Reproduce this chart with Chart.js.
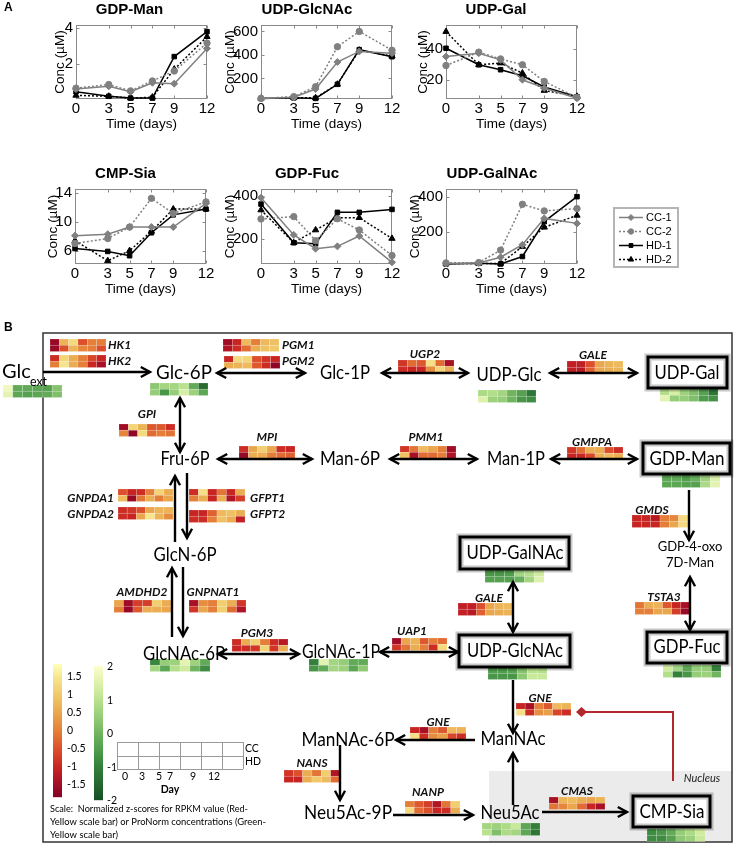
<!DOCTYPE html>
<html><head><meta charset="utf-8">
<script src="https://cdn.jsdelivr.net/npm/chart.js@4.4.0/dist/chart.umd.min.js"></script>
<style>
html,body{margin:0;padding:0;background:#fff;}
#wrap{position:relative;width:737px;height:845px;overflow:hidden;}
canvas{position:absolute;}
</style></head><body><div id="wrap">
<canvas id="bg" width="737" height="845" style="left:0;top:0;z-index:0"></canvas>
<canvas id="c1"></canvas><canvas id="c2"></canvas><canvas id="c3"></canvas>
<canvas id="c4"></canvas><canvas id="c5"></canvas><canvas id="c6"></canvas>
</div>
<script>
// ---------------- Panel A data ----------------
const days = [0, 3, 5, 7, 9, 12];
const seriesLabels = ['CC-1', 'CC-2', 'HD-1', 'HD-2'];

const gdpManCC1 = [0.6, 0.75, 0.45, 0.95, 0.9, 2.85];
const gdpManCC2 = [0.65, 0.85, 0.5, 1.05, 1.6, 3.15];
const gdpManHD1 = [0.45, 0.2, 0.1, 0.1, 2.4, 3.78];
const gdpManHD2 = [0.25, 0.2, 0.1, 0.15, 1.7, 3.5];
const gdpManTicks = [2, 4];

const udpGlcNAcCC1 = [30, 40, 110, 340, 430, 415];
const udpGlcNAcCC2 = [30, 45, 130, 470, 600, 440];
const udpGlcNAcHD1 = [30, 35, 30, 150, 445, 385];
const udpGlcNAcHD2 = [30, 35, 35, 150, 440, 390];
const udpGlcNAcTicks = [200, 400, 600];

const udpGalCC1 = [35, 37.2, 32.9, 20, 14.6, 8];
const udpGalCC2 = [29.2, 37.9, 33.5, 29.7, 18.9, 8.5];
const udpGalHD1 = [40.4, 29.7, 26.5, 22.6, 15.3, 9];
const udpGalHD2 = [51.2, 29.7, 30.8, 24.3, 13, 9.2];
const udpGalTicks = [20, 40];

const cmpSiaCC1 = [8.1, 8.3, 9.3, 9.3, 9.3, 12.6];
const cmpSiaCC2 = [7.0, 7.7, 9.3, 13.3, 11.2, 12.8];
const cmpSiaHD1 = [6.3, 5.9, 5.3, 8.5, 11.0, 11.8];
const cmpSiaHD2 = [7.4, 4.6, 6.0, 8.7, 11.8, 11.8];
const cmpSiaTicks = [6, 8, 10, 12, 14];

const gdpFucCC1 = [392, 217, 152, 163, 212, 88];
const gdpFucCC2 = [292, 303, 190, 293, 240, 120];
const gdpFucHD1 = [362, 180, 175, 323, 323, 337];
const gdpFucHD2 = [334, 180, 240, 298, 298, 200];
const gdpFucTicks = [200, 400];

const udpGalNAcCC1 = [25, 28, 60, 130, 278, 250];
const udpGalNAcCC2 = [28, 30, 100, 357, 320, 333];
const udpGalNAcHD1 = [22, 26, 22, 64, 260, 400];
const udpGalNAcHD2 = [25, 25, 25, 120, 228, 295];
const udpGalNAcTicks = [200, 400];

// ---------------- Panel B heatmap data (z-scores; row 0 = CC, row 1 = HD; columns = days) ----------------
const hmHK1 = [[-1.6, 0.7, 1.3, -0.5, 0.0, 0.0], [-1.6, -0.5, 0.7, 0.1, 0.0, -0.5]];
const hmHK2 = [[-0.9, 1.2, 0.6, 0.0, -0.6, -1.0], [0.0, 1.5, 0.6, 0.0, -1.0, -1.4]];
const hmPGM1 = [[-1.5, -1.0, 0.8, 0.0, 0.8, 0.9], [-1.3, -0.9, -0.2, 0.6, 0.9, 1.0]];
const hmPGM2 = [[-1.0, 1.3, 1.2, -0.5, -0.8, -1.0], [0.6, 0.7, 0.8, -0.4, -0.9, -1.7]];
const hmGPI = [[-1.5, 1.2, 0.7, -0.4, -0.4, -0.9], [0.1, -1.7, 1.3, -0.2, 0.0, -0.1]];
const hmMPI = [[-0.9, 0.5, 1.1, 0.5, -0.9, -1.0], [-1.6, 0.6, 0.6, 0.0, -0.2, -0.3]];
const hmGNPDA1 = [[-0.5, -1.0, -0.9, 0.0, 1.2, 0.6], [0.8, -1.6, -0.1, 0.6, 0.0, 0.5]];
const hmGNPDA2 = [[-0.9, -0.8, -0.5, 0.5, 0.7, 0.7], [-0.9, -1.0, 0.5, 1.5, 0.7, 0.2]];
const hmGFPT1 = [[-0.9, 1.4, -1.0, -0.1, -1.0, 0.6], [0.0, 0.6, -1.0, 0.6, -1.3, -0.7]];
const hmGFPT2 = [[-1.0, -1.0, -0.3, 0.8, 0.9, 0.6], [-0.9, -0.9, 0.0, 0.9, 0.6, -1.1]];
const hmUGP2 = [[-0.8, -0.2, -0.4, 1.4, -0.2, -1.4], [-0.9, -1.0, -1.0, 0.2, 1.2, 0.6]];
const hmGALE = [[-1.1, -1.1, -0.5, 0.5, 0.7, 0.8], [-1.1, -1.2, -0.3, 0.5, 0.6, 0.7]];
const hmPMM1 = [[-0.8, -0.1, 0.8, 0.5, 0.0, -1.5], [0.9, -1.4, -0.2, -0.2, 0.0, -1.3]];
const hmGMPPA = [[-0.8, -0.2, 0.6, 0.6, -0.5, -0.9], [-1.0, -1.0, -0.6, 0.6, 0.8, 0.6]];
const hmGMDS = [[-1.0, -1.0, -1.2, 0.0, 0.1, 1.3], [-1.0, -1.0, -1.0, 0.0, 0.5, 1.3]];
const hmTSTA3 = [[-0.1, 0.6, 0.7, -0.4, -1.0, -1.4], [0.0, 0.0, 0.5, 0.5, -0.7, -1.6]];
const hmUAP1 = [[-1.5, 0.5, 0.7, -0.4, 0.0, -0.2], [-0.8, -0.1, 0.6, 0.0, -0.9, 1.3]];
const hmPGM3 = [[-0.9, 0.6, 1.1, 0.0, -0.9, -1.2], [-1.0, -0.9, -0.8, 1.2, -0.8, 0.6]];
const hmAMDHD2 = [[0.5, -1.5, -0.7, -0.7, 1.1, 0.6], [0.0, -1.6, -0.4, 0.6, 0.6, 0.5]];
const hmGNPNAT1 = [[-1.4, 0.2, 0.0, 1.1, 0.6, -0.8], [-0.8, 0.5, 0.0, 1.1, -0.2, -1.3]];
const hmGNE = [[-1.0, -1.4, 0.0, -0.4, 0.8, 0.7], [1.4, -0.9, 0.2, 0.4, -0.6, -0.9]];
const hmNANS = [[-0.8, -0.5, 0.6, -0.1, 1.1, -1.3], [-1.0, -1.0, 0.6, 1.0, 0.8, -0.2]];
const hmNANP = [[0.0, -0.4, -0.7, -1.3, -0.1, 1.1], [1.3, -0.2, -0.5, -1.0, -0.9, 0.6]];
const hmCMAS = [[-1.4, 0.7, 0.8, 0.6, 0.5, 0.7], [-0.1, 0.1, 0.5, -0.2, -1.0, -1.4]];
// metabolite (ProNorm) z-scores
const mbGlcExt = [[1.8, -0.2, -0.2, -0.3, -0.4, 0.3], [1.6, -0.3, -0.4, -0.3, -0.2, 0.2]];
const mbGlc6P = [[0.4, 0.7, 0.7, 1.0, -0.2, -1.4], [0.5, -0.6, 0.5, 1.4, 0.6, -0.3]];
const mbUDPGlc = [[0.8, 0.9, 0.7, 0.0, -0.4, -1.2], [1.5, 0.6, 0.5, 0.0, -0.6, -0.8]];
const mbUDPGal = [[0.9, 1.4, 0.6, 0.2, -0.4, -1.2], [1.6, 0.5, 0.5, 0.2, -0.5, -0.7]];
const mbGDPMan = [[-0.3, -0.2, -0.5, -0.1, 0.6, 1.5], [-0.3, -0.3, -0.4, -0.4, 0.8, 1.6]];
const mbGDPFuc = [[1.3, 0.7, -0.3, 0.5, 0.5, -1.0], [0.9, -1.0, -0.6, 0.5, 0.6, 0.0]];
const mbUDPGalNAc = [[-0.6, -0.6, -0.5, 0.7, 0.9, 1.3], [-0.4, -0.4, -0.4, -0.1, 0.7, 1.5]];
const mbUDPGlcNAc = [[-0.5, -0.5, -0.4, 0.3, 1.0, 0.9], [-0.6, -0.6, -0.6, 0.4, 1.2, 1.2]];
const mbGlcNAc1P = [[-1.0, 1.6, 0.7, 0.5, -0.2, -0.2], [-0.6, -0.2, 0.7, 0.6, -0.3, 0.4]];
const mbGlcNAc6P = [[-0.9, 0.5, 0.6, 1.6, 0.6, -0.2], [0.7, -0.3, 0.9, 1.3, 0.0, -0.8]];
const mbNeu5Ac = [[0.7, 0.6, 0.8, 1.2, -0.3, -1.0], [1.0, 0.2, 0.8, 0.7, -0.3, -1.2]];
const mbCMPSia = [[-0.8, -0.6, -0.2, 0.5, 0.8, 1.3], [-0.8, -0.8, -0.4, 0.4, 0.6, 1.2]];

const rnaScaleTicks = [1.5, 1, 0.5, 0, -0.5, -1, -1.5];
const metScaleTicks = [2, 1, 0, -1, -2];
const dayLabels = ['0', '3', '5', '7', '9', '12'];
const scaleNote = ['Scale:  Normalized z-scores for RPKM value (Red-', 'Yellow scale bar) or ProNorm concentrations (Green-', 'Yellow scale bar)'];

// ---------------- styles ----------------
const GRAY = '#808080';
const seriesColors = [GRAY, GRAY, '#000000', '#000000'];
const seriesDash = [[], [2, 2], [], [2, 2]];
const seriesPoint = ['rectRot', 'circle', 'rect', 'triangle'];
const seriesRadius = [3.5, 3.2, 3.2, 3.6];
const AF = 'Liberation Sans, Arial, sans-serif';

const matAxes = {
  id: 'matAxes',
  beforeDatasetsDraw(chart) {
    const {ctx, chartArea: a, scales: {x, y}} = chart;
    ctx.save();
    ctx.strokeStyle = '#8a8a8a'; ctx.lineWidth = 1;
    const L = Math.round(a.left) + 0.5, T = Math.round(a.top) + 0.5, R = Math.round(a.right) - 0.5, B = Math.round(a.bottom) - 0.5;
    ctx.strokeRect(L, T, R - L, B - T);
    ctx.beginPath();
    x.ticks.forEach(t => { const p = Math.round(x.getPixelForValue(t.value)) + 0.5; ctx.moveTo(p, T); ctx.lineTo(p, T + 3); ctx.moveTo(p, B); ctx.lineTo(p, B - 3); });
    y.ticks.forEach(t => { const p = Math.round(y.getPixelForValue(t.value)) + 0.5; ctx.moveTo(L, p); ctx.lineTo(L + 3, p); ctx.moveTo(R, p); ctx.lineTo(R - 3, p); });
    ctx.stroke(); ctx.restore();
  }
};

const M = 50;
function makeChart(id, title, series, yMin, yMax, yTicks, plotLeft, plotTop, plotH, axisW) {
  const cv = document.getElementById(id);
  const W = 131 + 2 * M, H = 25 + plotH + 33;
  cv.width = W; cv.height = H;
  cv.style.left = (plotLeft - M) + 'px'; cv.style.top = (plotTop - 25) + 'px';
  cv.style.width = W + 'px'; cv.style.height = H + 'px'; cv.style.zIndex = 2;
  return new Chart(cv, {
    type: 'line',
    data: {
      datasets: series.map((arr, i) => ({
        label: seriesLabels[i],
        data: days.map((d, j) => ({x: d, y: arr[j]})),
        borderColor: seriesColors[i], backgroundColor: seriesColors[i],
        pointBackgroundColor: seriesColors[i], pointBorderColor: seriesColors[i],
        borderWidth: 1.5, borderDash: seriesDash[i],
        pointStyle: seriesPoint[i], pointRadius: seriesRadius[i], pointBorderWidth: 1,
        tension: 0, clip: false
      }))
    },
    options: {
      animation: false, responsive: false, devicePixelRatio: 1,
      layout: {padding: {left: M - axisW, right: M, top: 0, bottom: 0}},
      plugins: {
        legend: {display: false}, tooltip: {enabled: false},
        title: {display: true, text: title, color: '#000', font: {family: AF, size: 15, weight: 'bold'}, padding: {top: 0.5, bottom: 6.5}}
      },
      scales: {
        x: {
          type: 'linear', min: 0, max: 12,
          afterBuildTicks: s => { s.ticks = days.map(v => ({value: v})); },
          afterFit: s => { s.height = 33; s.paddingLeft = 0; s.paddingRight = 0; },
          grid: {display: false, drawTicks: false}, border: {display: false},
          ticks: {padding: 1, autoSkip: false, maxRotation: 0, color: '#000', font: {family: AF, size: 15}},
          title: {display: true, text: 'Time (days)', color: '#000', font: {family: AF, size: 13.5}, padding: 0}
        },
        y: {
          type: 'linear', min: yMin, max: yMax,
          afterBuildTicks: s => { s.ticks = yTicks.map(v => ({value: v})); },
          afterFit: s => { s.width = axisW; s.paddingTop = 0; s.paddingBottom = 0; },
          grid: {display: false, drawTicks: false}, border: {display: false},
          ticks: {padding: 3, color: '#000', font: {family: AF, size: 15}},
          title: {display: true, text: 'Conc (\u00B5M)', color: '#000', font: {family: AF, size: 13.5}, padding: 0}
        }
      }
    },
    plugins: [matAxes]
  });
}

makeChart('c1', 'GDP-Man', [gdpManCC1, gdpManCC2, gdpManHD1, gdpManHD2], 0.05, 4.15, gdpManTicks, 76, 25, 74, 24);
makeChart('c2', 'UDP-GlcNAc', [udpGlcNAcCC1, udpGlcNAcCC2, udpGlcNAcHD1, udpGlcNAcHD2], 25, 655, udpGlcNAcTicks, 261, 25, 74, 39);
makeChart('c3', 'UDP-Gal', [udpGalCC1, udpGalCC2, udpGalHD1, udpGalHD2], 7.5, 55.5, udpGalTicks, 446, 25, 74, 31);
makeChart('c4', 'CMP-Sia', [cmpSiaCC1, cmpSiaCC2, cmpSiaHD1, cmpSiaHD2], 4.15, 14.6, cmpSiaTicks, 75, 189, 75, 30);
makeChart('c5', 'GDP-Fuc', [gdpFucCC1, gdpFucCC2, gdpFucHD1, gdpFucHD2], 80, 433, gdpFucTicks, 261, 189, 75, 39);
makeChart('c6', 'UDP-GalNAc', [udpGalNAcCC1, udpGalNAcCC2, udpGalNAcHD1, udpGalNAcHD2], 22, 443, udpGalNAcTicks, 446, 189, 75, 39);

// ---------------- Panel B layout ----------------
const redStops = [[-1.85, [130, 0, 38]], [-1.4, [168, 16, 38]], [-1.0, [200, 36, 34]], [-0.5, [220, 78, 44]], [0, [228, 126, 56]], [0.5, [234, 166, 76]], [1.0, [240, 200, 104]], [1.5, [247, 229, 142]], [1.85, [255, 254, 182]]];
const greenStops = [[-2, [22, 78, 38]], [-1, [52, 128, 58]], [-0.5, [78, 156, 76]], [0, [112, 180, 96]], [0.5, [150, 205, 120]], [1, [186, 226, 142]], [1.5, [222, 241, 172]], [2, [252, 253, 204]]];
function cmap(stops, v) {
  if (v <= stops[0][0]) return 'rgb(' + stops[0][1].join(',') + ')';
  for (let i = 1; i < stops.length; i++) {
    if (v <= stops[i][0]) {
      const [a, ca] = stops[i - 1], [b, cb] = stops[i], t = (v - a) / (b - a);
      return 'rgb(' + ca.map((c, k) => Math.round(c + (cb[k] - c) * t)).join(',') + ')';
    }
  }
  return 'rgb(' + stops[stops.length - 1][1].join(',') + ')';
}

// [data, x, y, width, kind, label, labelX, labelY, align]
const heatLayout = [
  [hmHK1, 50, 339, 56, 'r', 'HK1', 108, 345, 'left'],
  [hmHK2, 50, 355, 56, 'r', 'HK2', 108, 361, 'left'],
  [hmPGM1, 223, 339, 56, 'r', 'PGM1', 282, 345, 'left'],
  [hmPGM2, 224, 356, 56, 'r', 'PGM2', 282, 361, 'left'],
  [hmGPI, 119, 424, 56, 'r', 'GPI', 147, 414, 'center'],
  [hmUGP2, 398, 360, 56, 'r', 'UGP2', 425, 354, 'center'],
  [hmGALE, 567, 361, 56, 'r', 'GALE', 593, 355, 'center'],
  [hmMPI, 239, 446, 56, 'r', 'MPI', 267, 437, 'center'],
  [hmPMM1, 400, 446, 56, 'r', 'PMM1', 426, 437, 'center'],
  [hmGMPPA, 567, 447, 56, 'r', 'GMPPA', 592, 442, 'center'],
  [hmGMDS, 632, 515, 56, 'r', 'GMDS', 652, 510, 'center'],
  [hmGNPDA1, 118, 489, 55, 'r', 'GNPDA1', 114, 498, 'right'],
  [hmGNPDA2, 118, 507, 55, 'r', 'GNPDA2', 114, 514, 'right'],
  [hmGFPT1, 189, 489, 56, 'r', 'GFPT1', 250, 498, 'left'],
  [hmGFPT2, 189, 510, 56, 'r', 'GFPT2', 250, 514, 'left'],
  [hmAMDHD2, 114, 600, 57, 'r', 'AMDHD2', 142, 592, 'center'],
  [hmGNPNAT1, 189, 600, 57, 'r', 'GNPNAT1', 213, 592, 'center'],
  [hmPGM3, 232, 639, 56, 'r', 'PGM3', 257, 633, 'center'],
  [hmUAP1, 392, 638, 55, 'r', 'UAP1', 412, 631, 'center'],
  [hmGALE, 458, 603, 55, 'r', 'GALE', 489, 598, 'center'],
  [hmTSTA3, 635, 602, 55, 'r', 'TSTA3', 664, 597, 'center'],
  [hmGNE, 516, 703, 55, 'r', 'GNE', 540, 698, 'center'],
  [hmGNE, 410, 727, 56, 'r', 'GNE', 438, 722, 'center'],
  [hmNANS, 284, 770, 56, 'r', 'NANS', 312, 763, 'center'],
  [hmNANP, 405, 801, 55, 'r', 'NANP', 428, 792, 'center'],
  [hmCMAS, 549, 797, 56, 'r', 'CMAS', 577, 791, 'center'],
  [mbGlcExt, 3, 385, 59, 'g'],
  [mbGlc6P, 150, 383, 58, 'g'],
  [mbUDPGlc, 478, 390, 58, 'g'],
  [mbUDPGal, 660, 389, 58, 'g'],
  [mbGDPMan, 662, 475, 58, 'g'],
  [mbGDPFuc, 663, 665, 58, 'g'],
  [mbUDPGalNAc, 485, 570, 59, 'g'],
  [mbUDPGlcNAc, 488, 667, 59, 'g'],
  [mbGlcNAc1P, 309, 659, 59, 'g'],
  [mbGlcNAc6P, 150, 659, 60, 'g'],
  [mbNeu5Ac, 482, 823, 58, 'g'],
  [mbCMPSia, 647, 829, 58, 'g']
];

// [text, cx, cy, maxWidth, box]
const nodes = [
  ['Glc-6P', 184, 373, 56], ['Glc-1P', 345, 373, 50], ['UDP-Glc', 509, 375, 65],
  ['UDP-Gal', 687, 373, 65, [648, 357, 727, 388]],
  ['Fru-6P', 185, 459, 49], ['Man-6P', 350, 459, 60], ['Man-1P', 516, 459, 58],
  ['GDP-Man', 687, 459, 75, [643, 443, 730, 474]],
  ['GDP-Fuc', 687, 647, 67, [647, 632, 727, 663]],
  ['GlcN-6P', 185, 555, 63],
  ['UDP-GalNAc', 515, 553, 97, [460, 537, 569, 569]],
  ['UDP-GlcNAc', 515, 651, 96, [459, 635, 570, 667]],
  ['GlcNAc-6P', 184, 654, 82], ['GlcNAc-1P', 341, 652, 78],
  ['ManNAc', 513, 739, 65], ['ManNAc-6P', 348, 740, 93],
  ['Neu5Ac-9P', 348, 813, 88], ['Neu5Ac', 510, 813, 59],
  ['CMP-Sia', 672, 812, 65, [633, 796, 710, 827]]
];

// [x1, y1, x2, y2, heads]  heads: 'end' | 'both'
const arrows = [
  [43, 372, 150, 372, 'end'], [217, 373, 305, 373, 'both'], [382, 373, 468, 373, 'both'], [550, 373, 637, 373, 'both'],
  [180, 398, 180, 452, 'both'], [218, 459, 312, 459, 'both'], [390, 459, 477, 459, 'both'], [551, 459, 637, 459, 'both'],
  [175, 542, 175, 476, 'end'], [187, 473, 187, 538, 'end'],
  [172, 637, 172, 568, 'end'], [183, 567, 183, 636, 'end'],
  [218, 654, 299, 654, 'both'], [380, 652, 458, 652, 'both'], [513, 582, 513, 632, 'both'],
  [689, 490, 689, 540, 'end'], [690, 577, 690, 630, 'both'],
  [513, 680, 513, 733, 'end'], [475, 740, 396, 740, 'end'], [340, 745, 340, 800, 'end'],
  [393, 815, 473, 815, 'end'], [513, 805, 513, 753, 'end'], [542, 812, 627, 812, 'end']
];

const pathwayPlugin = {
  id: 'pathway',
  afterDraw(chart) {
    const ctx = chart.ctx, xs = chart.scales.x, ys = chart.scales.y;
    const X = v => xs.getPixelForValue(v), Y = v => ys.getPixelForValue(v);
    const LF = 'Lato, "Open Sans", sans-serif';
    ctx.save();
    // nucleus
    ctx.fillStyle = '#ebebeb';
    ctx.fillRect(X(489), Y(771), X(732) - X(489), Y(842) - Y(771));
    ctx.fillStyle = '#222'; ctx.font = 'italic 11px ' + LF; ctx.textAlign = 'center'; ctx.textBaseline = 'middle';
    ctx.fillText('Nucleus', X(702), Y(778));
    // outer box
    ctx.strokeStyle = '#333'; ctx.lineWidth = 1.5;
    ctx.strokeRect(X(43), Y(333), X(732) - X(43), Y(842) - Y(333));

    // heatmaps
    heatLayout.forEach(h => {
      const [data, hx, hy, w, kind, label, lx, ly, al] = h;
      const cw = w / 6, rh = 6.25;
      data.forEach((row, r) => row.forEach((v, c) => {
        const x0 = X(hx + c * cw), x1 = X(hx + (c + 1) * cw), y0 = Y(hy + r * rh), y1 = Y(hy + (r + 1) * rh);
        ctx.fillStyle = cmap(kind === 'r' ? redStops : greenStops, v);
        ctx.fillRect(x0, y0, x1 - x0, y1 - y0);
        ctx.strokeStyle = 'rgba(255,255,255,0.28)'; ctx.lineWidth = 0.6;
        ctx.strokeRect(x0, y0, x1 - x0, y1 - y0);
      }));
      if (label) {
        ctx.fillStyle = '#111'; ctx.font = 'italic bold 12px ' + LF; ctx.textAlign = al; ctx.textBaseline = 'middle';
        ctx.fillText(label, X(lx), Y(ly));
      }
    });

    // arrows
    ctx.strokeStyle = '#000'; ctx.lineWidth = 2.4; ctx.lineCap = 'butt';
    const head = (x, y, ang) => {
      const L = 10.5, a = 0.5;
      ctx.beginPath();
      ctx.moveTo(x - L * Math.cos(ang - a), y - L * Math.sin(ang - a));
      ctx.lineTo(x, y);
      ctx.lineTo(x - L * Math.cos(ang + a), y - L * Math.sin(ang + a));
      ctx.stroke();
    };
    arrows.forEach(a => {
      const x1 = X(a[0]), y1 = Y(a[1]), x2 = X(a[2]), y2 = Y(a[3]);
      ctx.beginPath(); ctx.moveTo(x1, y1); ctx.lineTo(x2, y2); ctx.stroke();
      const ang = Math.atan2(y2 - y1, x2 - x1);
      head(x2, y2, ang);
      if (a[4] === 'both') head(x1, y1, ang + Math.PI);
    });

    // red feedback inhibition
    ctx.strokeStyle = '#b3262b'; ctx.lineWidth = 2;
    ctx.beginPath(); ctx.moveTo(X(673), Y(781)); ctx.lineTo(X(673), Y(712)); ctx.lineTo(X(586), Y(712)); ctx.stroke();
    ctx.fillStyle = '#b3262b';
    ctx.beginPath(); ctx.moveTo(X(576), Y(712)); ctx.lineTo(X(581.5), Y(707)); ctx.lineTo(X(587), Y(712)); ctx.lineTo(X(581.5), Y(717)); ctx.closePath(); ctx.fill();

    // nodes
    nodes.forEach(n => {
      const [t, cx, cy, mw, box] = n;
      if (box) {
        const [a, b, c, d] = box;
        ctx.fillStyle = '#fff'; ctx.fillRect(X(a), Y(b), X(c) - X(a), Y(d) - Y(b));
        ctx.strokeStyle = 'rgba(0,0,0,0.22)'; ctx.lineWidth = 7; ctx.strokeRect(X(a), Y(b), X(c) - X(a), Y(d) - Y(b));
        ctx.strokeStyle = '#000'; ctx.lineWidth = 3; ctx.strokeRect(X(a), Y(b), X(c) - X(a), Y(d) - Y(b));
      }
      ctx.fillStyle = '#000'; ctx.font = '20px ' + LF; ctx.textAlign = 'center'; ctx.textBaseline = 'middle';
      ctx.fillText(t, X(cx), Y(cy), mw);
    });
    // Glc ext
    ctx.textAlign = 'left'; ctx.font = '20px ' + LF; ctx.fillText('Glc', X(2), Y(372), 29);
    ctx.font = '14px ' + LF; ctx.fillText('ext', X(30), Y(381), 17);
    ctx.textAlign = 'center'; ctx.font = '13px ' + LF;
    ctx.fillText('GDP-4-oxo', X(690), Y(547)); ctx.fillText('7D-Man', X(690), Y(563));

    // colour bars
    const barR = [53, 664, 62, 797], barG = [94, 666, 103, 800];
    for (let py = barR[1]; py < barR[3]; py++) {
      const v = 1.86 - (py - barR[1]) / (barR[3] - barR[1]) * 3.69;
      ctx.fillStyle = cmap(redStops, v); ctx.fillRect(X(barR[0]), Y(py), X(barR[2]) - X(barR[0]), 1.2);
    }
    for (let py = barG[1]; py < barG[3]; py++) {
      const v = 2 - (py - barG[1]) / (barG[3] - barG[1]) * 4;
      ctx.fillStyle = cmap(greenStops, v); ctx.fillRect(X(barG[0]), Y(py), X(barG[2]) - X(barG[0]), 1.2);
    }
    ctx.fillStyle = '#000'; ctx.font = '10.5px ' + LF; ctx.textAlign = 'left'; ctx.textBaseline = 'middle';
    rnaScaleTicks.forEach(v => ctx.fillText(String(v), X(67), Y(731 - v * 36)));
    metScaleTicks.forEach(v => ctx.fillText(String(v), X(107), Y(734 - v * 33.5)));

    // day grid
    ctx.strokeStyle = '#9a9a9a'; ctx.lineWidth = 1;
    ctx.beginPath();
    for (let i = 0; i <= 6; i++) { const gx = Math.round(X(117 + i * 21)) + 0.5; ctx.moveTo(gx, Y(742)); ctx.lineTo(gx, Y(769)); }
    [742, 756, 769].forEach(gy => { const p = Math.round(Y(gy)) + 0.5; ctx.moveTo(X(117), p); ctx.lineTo(X(243), p); });
    ctx.stroke();
    ctx.fillStyle = '#000'; ctx.font = '10.5px ' + LF;
    ctx.fillText('CC', X(245), Y(749)); ctx.fillText('HD', X(245), Y(762));
    ctx.textAlign = 'center';
    const dayX = [125, 142, 159, 170, 193, 214];
    dayLabels.forEach((d, i) => ctx.fillText(d, X(dayX[i]), Y(777)));
    ctx.font = 'bold 10.5px ' + LF; ctx.fillText('Day', X(170), Y(790));
    ctx.textAlign = 'left'; ctx.font = '10px ' + LF;
    const noteW = [198, 216, 68];
    scaleNote.forEach((s, i) => ctx.fillText(s, X(50), Y(809 + i * 13), noteW[i]));

    // panel A legend
    ctx.strokeStyle = '#b5b5b5'; ctx.lineWidth = 2;
    ctx.strokeRect(X(614), Y(208), X(678) - X(614), Y(267) - Y(208));
    seriesLabels.forEach((s, i) => {
      const ly = Y(217.5 + i * 14);
      ctx.strokeStyle = seriesColors[i]; ctx.lineWidth = 1.5; ctx.setLineDash(seriesDash[i]);
      ctx.beginPath(); ctx.moveTo(X(619), ly); ctx.lineTo(X(643), ly); ctx.stroke(); ctx.setLineDash([]);
      ctx.fillStyle = seriesColors[i]; ctx.strokeStyle = seriesColors[i]; ctx.lineWidth = 1;
      Chart.helpers.drawPoint(ctx, {pointStyle: seriesPoint[i], radius: seriesRadius[i] - 0.5, rotation: 0, borderWidth: 1}, X(631), ly);
      ctx.fillStyle = '#000'; ctx.font = '11px ' + AF; ctx.textAlign = 'left'; ctx.textBaseline = 'middle';
      ctx.fillText(s, X(646), ly);
    });

    // panel letters
    ctx.fillStyle = '#000'; ctx.font = 'bold 12px ' + AF; ctx.textAlign = 'left'; ctx.textBaseline = 'middle';
    ctx.fillText('A', X(4), Y(8)); ctx.fillText('B', X(4), Y(328));
    ctx.restore();
  }
};

new Chart(document.getElementById('bg'), {
  type: 'scatter',
  data: {datasets: [{data: []}]},
  options: {
    animation: false, responsive: false, devicePixelRatio: 1,
    layout: {padding: 0},
    plugins: {legend: {display: false}, tooltip: {enabled: false}, title: {display: false}},
    scales: {x: {type: 'linear', min: 0, max: 737, display: false}, y: {type: 'linear', min: 0, max: 845, reverse: true, display: false}}
  },
  plugins: [pathwayPlugin]
});
</script>
</body></html>
